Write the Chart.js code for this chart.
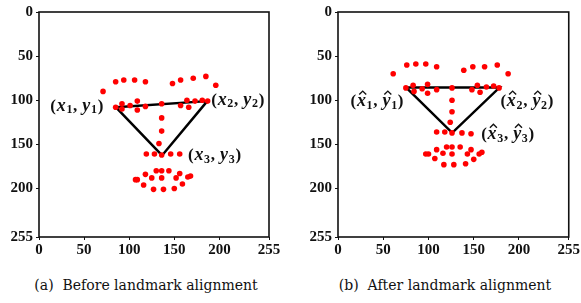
<!DOCTYPE html>
<html>
<head>
<meta charset="utf-8">
<script src="https://cdn.jsdelivr.net/npm/chart.js@4"></script>
<style>
  body { margin: 0; background: #fff; width: 581px; height: 303px; position: relative; overflow: hidden; }
  canvas { position: absolute; top: 0; }
  #c1 { left: 0; }
  #c2 { left: 290px; }
  .cap { position: absolute; top: 277px; font: 14px "DejaVu Serif"; color: #111; white-space: pre; transform: translateX(-50%); }
</style>
</head>
<body>
<canvas id="c1" width="290" height="262"></canvas>
<canvas id="c2" width="291" height="262"></canvas>
<div class="cap" style="left:146px">(a)  Before landmark alignment</div>
<div class="cap" style="left:445px">(b)  After landmark alignment</div>
<script>
const axisTicks = [0, 50, 100, 150, 200, 255];

// before alignment
const beforeX = [71, 85, 94, 106, 118, 148, 157, 171, 185, 196,
  85, 92, 92, 101, 109, 109, 118, 136, 157, 164, 166, 173, 181, 187,
  136, 136, 133,
  119, 128, 136, 146, 156,
  130, 136, 144, 118, 156,
  107, 109, 125, 136, 152, 165, 168,
  116, 127, 138, 150, 159];
const beforeY = [90, 79, 77, 77, 79, 81, 77, 75, 73, 83,
  108, 104, 110, 106, 101, 111, 107, 104, 106, 100, 108, 101, 100, 101,
  120, 135, 149,
  161, 161, 162, 161, 161,
  180, 180, 180, 184, 183,
  190, 190, 188, 188, 188, 187, 186,
  196, 201, 201, 200, 195];
const beforeTriX = [85.4, 186.6, 136.4];
const beforeTriY = [108, 101, 162.6];

// after alignment
const afterX = [61, 76, 86, 97, 109, 139, 149, 162, 176, 188,
  75, 83, 84, 93, 99, 99, 109, 126, 148, 154, 157, 164, 172, 178,
  126, 126, 124,
  109, 118, 126, 137, 147,
  120, 126, 135, 109, 147,
  97, 100, 116, 126, 143, 156, 159,
  107, 117, 128, 141, 150];
const afterY = [70, 60, 59, 59, 62, 66, 62, 62, 60, 70,
  86, 83, 90, 87, 82, 92, 88, 86, 88, 83, 91, 85, 84, 86,
  100, 113, 125,
  136, 136, 137, 137, 138,
  153, 153, 153, 156, 156,
  161, 161, 160, 161, 161, 161, 159,
  166, 173, 173, 172, 167];
const afterTriX = [75.4, 178.4, 126.2];
const afterTriY = [85.7, 85.7, 136.9];

const vertexSubs = ["1", "2", "3"];

Chart.defaults.font.family = '"Liberation Serif", "Times New Roman", serif';
Chart.defaults.font.size = 15;
Chart.defaults.font.weight = "bold";
Chart.defaults.color = "#111";

function toPoints(xs, ys) {
  return xs.map((x, i) => ({ x: x, y: ys[i] }));
}

function drawLabel(ctx, x, y, sub, hat, align) {
  const pieces = [
    ["(", 'bold 17px "Liberation Serif"', 0, false],
    ["x", 'bold italic 18px "Liberation Serif"', 0, hat],
    [sub, 'bold 12px "Liberation Serif"', 4, false],
    [", ", 'bold 17px "Liberation Serif"', 0, false],
    ["y", 'bold italic 18px "Liberation Serif"', 0, hat],
    [sub, 'bold 12px "Liberation Serif"', 4, false],
    [")", 'bold 17px "Liberation Serif"', 0, false],
  ];
  let total = 0;
  pieces.forEach((p) => {
    ctx.font = p[1];
    p.push(ctx.measureText(p[0]).width + 0.7);
    total += p[4];
  });
  let cx = align === "right" ? x - total : x;
  ctx.fillStyle = "#111";
  ctx.strokeStyle = "#111";
  ctx.textBaseline = "middle";
  ctx.textAlign = "left";
  pieces.forEach((p) => {
    ctx.font = p[1];
    ctx.fillText(p[0], cx, y + p[2]);
    if (p[3]) {
      const m = cx + p[4] / 2 + 1;
      ctx.lineWidth = 1.4;
      ctx.beginPath();
      ctx.moveTo(m - 3.5, y - 7);
      ctx.lineTo(m, y - 10.5);
      ctx.lineTo(m + 3.5, y - 7);
      ctx.stroke();
    }
    cx += p[4];
  });
}

function labelPlugin(triX, triY, offsets, hat) {
  return {
    id: "vertexLabels",
    afterDatasetsDraw(chart) {
      const ctx = chart.ctx;
      const xs = chart.scales.x;
      const ys = chart.scales.y;
      ctx.save();
      triX.forEach((v, i) => {
        const o = offsets[i];
        drawLabel(ctx, xs.getPixelForValue(v) + o[0], ys.getPixelForValue(triY[i]) + o[1], vertexSubs[i], hat, o[2]);
      });
      ctx.restore();
    },
  };
}

const framePlugin = {
  id: "frame",
  afterDraw(chart) {
    const a = chart.chartArea;
    const ctx = chart.ctx;
    ctx.save();
    ctx.strokeStyle = "#111";
    ctx.lineWidth = 1.6;
    ctx.strokeRect(a.left, a.top, a.right - a.left, a.bottom - a.top);
    ctx.restore();
  },
};

function makeChart(id, xs, ys, triX, triY, axisW, padRight, offsets, hat) {
  const tri = toPoints(triX, triY);
  tri.push(tri[0]);
  const tickFont = { family: '"Liberation Serif", serif', size: 15, weight: "bold" };
  const grid = { drawOnChartArea: false, drawTicks: true, tickLength: 3, color: "#111", lineWidth: 1 };
  return new Chart(document.getElementById(id), {
    type: "scatter",
    data: {
      datasets: [
        {
          data: toPoints(xs, ys),
          backgroundColor: "#f00",
          borderWidth: 0,
          pointRadius: 2.8,
        },
        {
          data: tri,
          showLine: true,
          borderColor: "#000",
          borderWidth: 2.5,
          pointRadius: 0,
          fill: false,
        },
      ],
    },
    options: {
      responsive: false,
      animation: false,
      layout: { padding: { top: 6, right: padRight, left: 0, bottom: 0 } },
      plugins: { legend: { display: false }, tooltip: { enabled: false } },
      scales: {
        x: {
          type: "linear",
          min: 0,
          max: 255,
          afterBuildTicks: (s) => { s.ticks = axisTicks.map((v) => ({ value: v })); },
          afterFit: (s) => { s.height = 25; },
          border: { display: false },
          grid: grid,
          ticks: { font: tickFont, color: "#111", padding: 1, maxRotation: 0 },
        },
        y: {
          type: "linear",
          reverse: true,
          min: 0,
          max: 255,
          afterBuildTicks: (s) => { s.ticks = axisTicks.map((v) => ({ value: v })); },
          afterFit: (s) => { s.width = axisW; },
          border: { display: false },
          grid: grid,
          ticks: { font: tickFont, color: "#111", padding: 3 },
        },
      },
    },
    plugins: [framePlugin, labelPlugin(triX, triY, offsets, hat)],
  });
}

makeChart("c1", beforeX, beforeY, beforeTriX, beforeTriY, 39, 21,
  [[-12, -1, "right"], [4, -1, "left"], [26, 0, "left"]], false);
makeChart("c2", afterX, afterY, afterTriX, afterTriY, 48, 12,
  [[-2, 14, "right"], [1, 14, "left"], [29, 2, "left"]], true);
</script>
</body>
</html>
